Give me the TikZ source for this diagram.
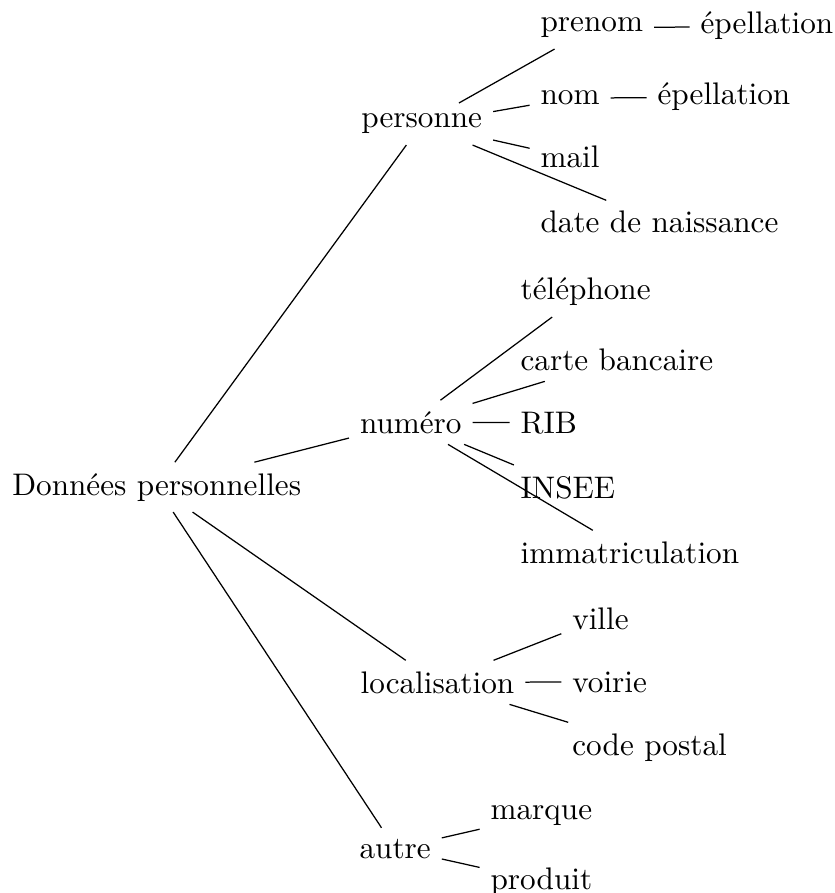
\documentclass[tikz,border=0pt]{standalone}
\usepackage{fontspec}
\begin{document}
\begin{tikzpicture}[x=0.3205pt, y=-0.3205pt,
  item/.style={anchor=base west, inner sep=3.333pt},
  branch/.style={draw=black, line width=0.4pt}]
\useasboundingbox (0,0) rectangle (835,893);

% root
\node[item] (root) at (1.3,495) {Données personnelles};

% first level
\node[item] (pers) at (350.3,128) {personne};
\node[item] (num)  at (349,433)   {numéro};
\node[item] (loc)  at (349.6,693) {localisation};
\node[item] (aut)  at (348.6,858) {autre};

% personne
\node[item] (pre)  at (529.6,32)  {prenom};
\node[item] (ep1)  at (689.6,34)  {épellation};
\node[item] (nom)  at (529.6,105) {nom};
\node[item] (ep2)  at (646.6,105) {épellation};
\node[item] (mail) at (529.6,168) {mail};
\node[item] (date) at (529.6,233) {date de naissance};

% numéro
\node[item] (tel)   at (509.6,300) {téléphone};
\node[item] (cb)    at (509.6,370) {carte bancaire};
\node[item] (rib)   at (509.6,433) {RIB};
\node[item] (insee) at (509.6,498) {INSEE};
\node[item] (imm)   at (509.6,563) {immatriculation};

% localisation
\node[item] (ville)  at (561.3,629) {ville};
\node[item] (voirie) at (561.3,692) {voirie};
\node[item] (cp)     at (561.3,755) {code postal};

% autre
\node[item] (marque)  at (479.6,819) {marque};
\node[item] (produit) at (479.6,889) {produit};

% edges
\foreach \a/\b in {root/pers, root/num, root/loc, root/aut,
  pers/pre, pre/ep1, pers/nom, nom/ep2, pers/mail, pers/date,
  num/tel, num/cb, num/rib, num/insee, num/imm,
  loc/ville, loc/voirie, loc/cp,
  aut/marque, aut/produit}
  \draw[branch] (\a) -- (\b);
\end{tikzpicture}
\end{document}
